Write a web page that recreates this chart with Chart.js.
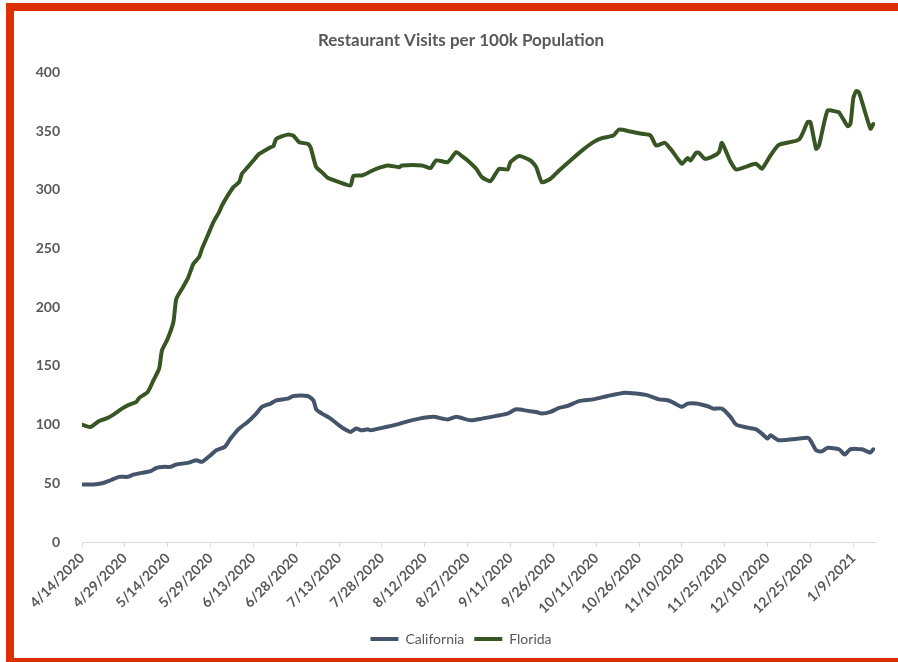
<!DOCTYPE html>
<html>
<head>
<meta charset="utf-8">
<script src="https://cdn.jsdelivr.net/npm/chart.js@4"></script>
<style>
  html, body { margin: 0; padding: 0; background: #fff; overflow: hidden; width: 898px; height: 662px; }
  .frame {
    position: absolute; left: 6px; top: 3px; width: 1000px; height: 647px;
    border: 8px solid #dc2f02; border-right: none;
  }
  .wrap { position: absolute; left: 14px; top: 11px; width: 894px; height: 647px; }
</style>
</head>
<body>
<div class="frame"></div>
<div class="wrap"><canvas id="chart"></canvas></div>
<script>
// day offsets from 4/14/2020
const startDate = new Date(2020, 3, 14);
const xTickStep = 15;
const yTicks = [0, 50, 100, 150, 200, 250, 300, 350, 400];

const caDays = [0, 4, 7, 10, 13, 16, 18, 21, 24, 26, 29, 31, 33, 37, 40, 42, 45, 47, 50, 52, 55, 58, 61, 63, 66, 68, 72, 74, 79, 81,
  82, 84, 87, 90, 92, 94, 96, 98, 100, 101, 105, 110, 114, 118, 123, 128, 131, 136, 140, 145, 149, 152, 156, 159, 161, 164, 167, 170,
  174, 179, 184, 190, 194, 198, 202, 205, 207, 210, 212, 215, 219, 221, 224, 227, 229, 233, 236, 238, 240, 241, 244, 254, 255, 257,
  259, 261, 265, 267, 269, 273, 276, 277];
const caValues = [49, 49, 50, 52.6, 55.5, 55.5, 57.4, 58.9, 60.3, 63, 64, 64, 66, 67.4, 69.6, 68.3, 73.9, 78.1, 81, 88.1, 96.6, 102.3,
  109.4, 115.1, 117.9, 120.7, 122.1, 124.4, 124.4, 120.7, 113, 109.4, 105.1, 99.4, 96, 93.8, 96.6, 95.1, 96, 95.1, 97.2, 100, 102.8,
  105.1, 106.6, 104.3, 106.6, 103.7, 105.1, 107.4, 109.4, 113, 111.7, 110.8, 109.4, 110.8, 114.2, 115.9, 120, 121.5, 124.4, 127.2,
  126.4, 124.9, 121.5, 120.7, 118.7, 115.1, 117.9, 117.9, 115.6, 113.6, 113.6, 106.6, 100, 97.4, 96, 92.3, 88.1, 90.9, 86.6, 88.7,
  86.6, 78.1, 77.2, 80.2, 79, 74.5, 79, 79, 76.2, 79];

const flDays = [0, 3, 6, 9, 11, 14, 16, 19, 20, 23, 25, 27, 28, 30, 32, 33, 35, 37, 39, 41, 42, 44, 46, 48, 49, 51, 53, 55, 56, 58,
  60, 62, 64, 66, 67, 68, 72, 74, 76, 79, 80, 82, 84, 86, 90, 94, 95, 98, 101, 103, 107, 111, 112, 119, 122, 124, 128, 131, 133, 135,
  138, 140, 143, 146, 149, 150, 153, 157, 159, 161, 164, 167, 171, 175, 179, 182, 186, 188, 192, 196, 199, 201, 204, 206, 209, 210,
  212, 213, 215, 216, 218, 221, 223, 224, 227, 229, 232, 236, 238, 241, 244, 251, 254, 255, 257, 258, 261, 264, 265, 268, 269, 270,
  271, 272, 276, 277];
const flValues = [100, 98, 103, 105.7, 108.5, 113.6, 116.4, 119.3, 122.7, 127.8, 137.7, 147.7, 163.2, 173.2, 187.4, 207, 215.7, 224.3,
  237, 242.7, 249.8, 261, 272.5, 281, 286.6, 295, 302.3, 306.5, 313.6, 319.3, 325, 330.6, 333.4, 336.3, 337.2, 343.4, 347, 346,
  340.6, 339.1, 336.3, 319.3, 315, 310.2, 306.5, 303.7, 311.7, 312.2, 315.6, 317.9, 320.7, 319.3, 320.7, 320.7, 318.5, 325, 323.6,
  332.1, 328.7, 325, 317.9, 310.8, 307.4, 317.9, 317.3, 323.6, 328.7, 325, 319.3, 306.5, 309.4, 316.4, 325, 333.4, 340.6, 344, 346.2,
  351.3, 349.6, 347.7, 346.2, 337.7, 340, 334.9, 325, 322.1, 327, 325, 331.5, 331.5, 326.4, 328.7, 332.1, 340, 324.1, 317.3, 319.3,
  322.1, 317.9, 329.2, 338.3, 342.8, 357.6, 357.6, 334.9, 337.7, 367.5, 366.6, 366.1, 354.2, 356.2, 378, 384, 383, 352, 356];

const toPoints = (days, vals) => days.map((d, i) => ({ x: d, y: vals[i] }));
const fmtDate = v => {
  const d = new Date(startDate.getFullYear(), startDate.getMonth(), startDate.getDate() + v);
  return (d.getMonth() + 1) + '/' + d.getDate() + '/' + d.getFullYear();
};

const grey = '#595959';
const font = 'Lato';

new Chart(document.getElementById('chart'), {
  type: 'line',
  data: {
    datasets: [
      { label: 'California', data: toPoints(caDays, caValues), borderColor: '#44546a', backgroundColor: '#44546a', borderWidth: 4 },
      { label: 'Florida', data: toPoints(flDays, flValues), borderColor: '#375623', backgroundColor: '#375623', borderWidth: 4 }
    ]
  },
  options: {
    responsive: true,
    maintainAspectRatio: false,
    animation: false,
    layout: { padding: { left: 0, right: 0, top: 0, bottom: 2 } },
    elements: { point: { radius: 0 }, line: { tension: 0.2, borderCapStyle: 'round', borderJoinStyle: 'round' } },
    scales: {
      x: {
        type: 'linear',
        min: 0,
        max: 277.6,
        grid: { display: true, drawOnChartArea: false, color: '#d9d9d9', tickLength: 5 },
        border: { color: '#d9d9d9' },
        ticks: {
          stepSize: xTickStep,
          includeBounds: false,
          autoSkip: false,
          maxRotation: 45,
          minRotation: 45,
          color: grey,
          font: { family: font, size: 14, weight: 'bold' },
          callback: v => fmtDate(v)
        },
        afterFit: s => { s.height = 80; }
      },
      y: {
        min: 0,
        max: 400,
        grid: { display: false },
        border: { display: false },
        afterBuildTicks: s => { s.ticks = yTicks.map(v => ({ value: v })); },
        ticks: { color: grey, padding: 14, font: { family: font, size: 14, weight: 'bold' } },
        afterFit: s => { s.width = 68; }
      },
      // empty right-hand spacer so the plot ends where the reference does
      spacer: {
        position: 'right',
        grid: { display: false },
        border: { display: false },
        ticks: { display: false },
        afterFit: s => { s.width = 33; }
      }
    },
    plugins: {
      title: {
        display: true,
        text: 'Restaurant Visits per 100k Population',
        color: grey,
        font: { family: font, size: 17, weight: 'bold' },
        padding: { top: 19, bottom: 22 }
      },
      legend: {
        position: 'bottom',
        labels: {
          color: grey,
          font: { family: font, size: 14 },
          usePointStyle: true,
          pointStyle: 'line',
          pointStyleWidth: 28,
          boxHeight: 4,
          padding: 10
        }
      },
      tooltip: { enabled: false }
    }
  }
});
</script>
</body>
</html>
